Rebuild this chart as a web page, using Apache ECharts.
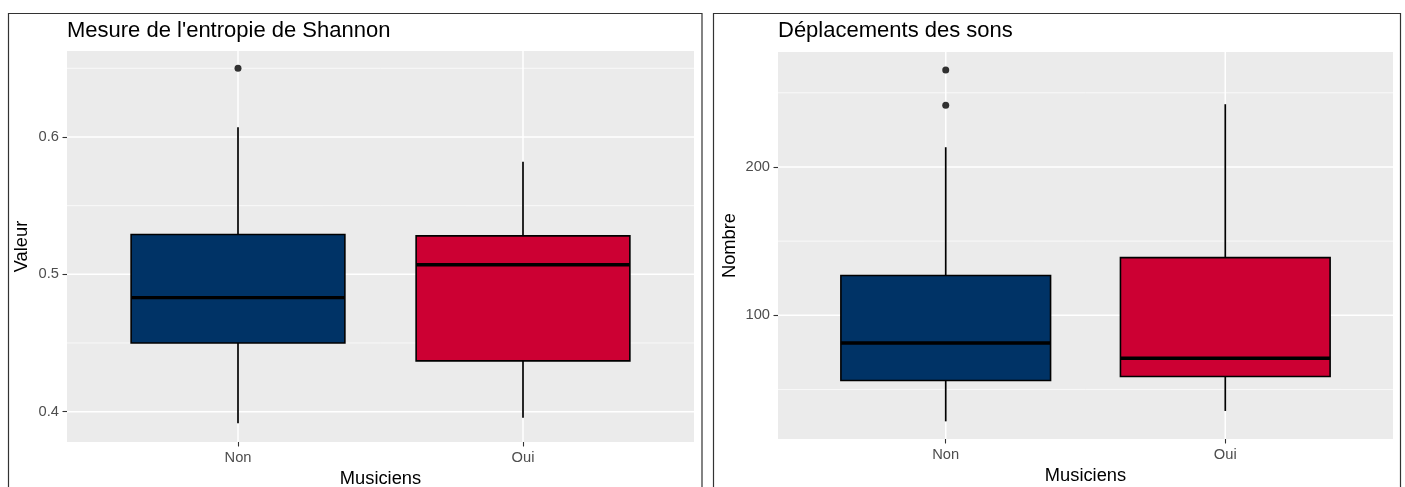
<!DOCTYPE html>
<html>
<head>
<meta charset="utf-8">
<script src="https://cdn.jsdelivr.net/npm/echarts@6/dist/echarts.min.js"></script>
<style>
html,body{margin:0;padding:0;background:#fff;}
#chart{width:1405px;height:487px;}
</style>
</head>
<body>
<div id="chart"></div>
<script>
// ---- data ----
const categories = ['Non', 'Oui'];
const xLabel = 'Musiciens';

const entropyTitle = "Mesure de l'entropie de Shannon";
const entropyYLabel = 'Valeur';
// [min, Q1, median, Q3, max] per category
const entropyStats = [
  [0.3915, 0.450, 0.483, 0.529, 0.607],
  [0.3956, 0.437, 0.507, 0.528, 0.582]
];
// [category index, value]
const entropyOutliers = [[0, 0.650]];
const entropyTicks = [0.4, 0.5, 0.6];
const entropyMinor = [0.45, 0.55, 0.65];
const entropyRange = [0.3779, 0.6626];

const deplTitle = 'Déplacements des sons';
const deplYLabel = 'Nombre';
const deplStats = [
  [28.5, 56.0, 81.3, 126.8, 213.3],
  [35.5, 58.7, 71.0, 138.9, 242.3]
];
const deplOutliers = [[0, 265.4], [0, 241.6]];
const deplTicks = [100, 200];
const deplMinor = [50, 150, 250];
const deplRange = [16.6, 277.5];

const fills = ['#003366', '#CC0033'];

// ---- build ----
const chart = echarts.init(document.getElementById('chart'), null, {renderer: 'canvas'});
const FONT = '"Liberation Sans", Arial, sans-serif';
const BOX_HALF = 0.375;

function boxRender(params, api) {
  const x = api.value(0);
  const vmin = api.value(1), q1 = api.value(2), med = api.value(3), q3 = api.value(4), vmax = api.value(5);
  const idx = api.value(6);
  const pMin = api.coord([x, vmin]);
  const pQ1 = api.coord([x, q1]);
  const pMed = api.coord([x, med]);
  const pQ3 = api.coord([x, q3]);
  const pMax = api.coord([x, vmax]);
  const left = api.coord([x - BOX_HALF, q3]);
  const right = api.coord([x + BOX_HALF, q1]);
  return {
    type: 'group',
    children: [
      {type: 'line', shape: {x1: pMin[0], y1: pMin[1], x2: pQ1[0], y2: pQ1[1]}, style: {stroke: '#000', lineWidth: 1.7}, z2: 1},
      {type: 'line', shape: {x1: pQ3[0], y1: pQ3[1], x2: pMax[0], y2: pMax[1]}, style: {stroke: '#000', lineWidth: 1.7}, z2: 1},
      {type: 'rect', shape: {x: left[0], y: left[1], width: right[0] - left[0], height: right[1] - left[1]},
        style: {fill: fills[idx], stroke: '#000', lineWidth: 1.6}, z2: 2},
      {type: 'line', shape: {x1: left[0], y1: pMed[1], x2: right[0], y2: pMed[1]}, style: {stroke: '#000', lineWidth: 3.4}, z2: 3}
    ]
  };
}

// gridlines: [orientation(0=h,1=v), value, width]
function gridRender(params, api) {
  const cs = params.coordSys;
  const orient = api.value(0), v = api.value(1), w = api.value(2);
  if (orient === 0) {
    const y = api.coord([1, v])[1];
    return {type: 'line', shape: {x1: cs.x, y1: y, x2: cs.x + cs.width, y2: y}, style: {stroke: '#ffffff', lineWidth: w}};
  }
  const x = api.coord([v, 0])[0];
  return {type: 'line', shape: {x1: x, y1: cs.y, x2: x, y2: cs.y + cs.height}, style: {stroke: '#ffffff', lineWidth: w}};
}

function buildBoxData(stats) {
  return stats.map((s, i) => [i + 1, s[0], s[1], s[2], s[3], s[4], i]);
}

function gridLinesData(ticks, minor) {
  return minor.map(v => [0, v, 0.7])
    .concat(ticks.map(v => [0, v, 1.5]))
    .concat(categories.map((c, i) => [1, i + 1, 1.5]));
}

function makeYAxis(gridIndex, range, ticks, name, gap) {
  return {
    type: 'value', gridIndex: gridIndex, min: range[0], max: range[1],
    name: name, nameLocation: 'middle', nameGap: gap,
    nameTextStyle: {color: '#000', fontSize: 18.3, fontFamily: FONT},
    axisLine: {show: false},
    axisTick: {show: true, length: 4.5, customValues: ticks, lineStyle: {color: '#333', width: 1.1}},
    axisLabel: {show: true, customValues: ticks, margin: 8, color: '#4D4D4D', fontSize: 14.7, fontFamily: FONT},
    splitLine: {show: false},
    minorSplitLine: {show: false}
  };
}

function makeXAxis(gridIndex) {
  return {
    type: 'value', gridIndex: gridIndex, min: 0.4, max: 2.6,
    name: xLabel, nameLocation: 'middle', nameGap: 25,
    nameTextStyle: {color: '#000', fontSize: 18.3, fontFamily: FONT, verticalAlign: 'top'},
    axisLine: {show: false},
    axisTick: {show: true, length: 4.5, customValues: [1, 2], lineStyle: {color: '#333', width: 1.1}},
    axisLabel: {show: true, customValues: [1, 2], margin: 8, color: '#4D4D4D', fontSize: 14.7, fontFamily: FONT,
      formatter: v => categories[Math.round(v) - 1] || ''},
    splitLine: {show: false}
  };
}

const option = {
  backgroundColor: '#ffffff',
  animation: false,
  title: [
    {text: entropyTitle, left: 67, top: 20, padding: 0, textStyle: {color: '#000', fontSize: 22, fontWeight: 'normal', fontFamily: FONT}},
    {text: deplTitle, left: 778, top: 20, padding: 0, textStyle: {color: '#000', fontSize: 22, fontWeight: 'normal', fontFamily: FONT}}
  ],
  graphic: [
    {type: 'rect', shape: {x: 8.5, y: 13.5, width: 693.5, height: 500}, style: {fill: 'none', stroke: '#333', lineWidth: 1.2}, silent: true, z: 100},
    {type: 'rect', shape: {x: 713.5, y: 13.5, width: 687, height: 500}, style: {fill: 'none', stroke: '#333', lineWidth: 1.2}, silent: true, z: 100}
  ],
  grid: [
    {left: 67, top: 51, width: 627, height: 391, show: true, backgroundColor: '#EBEBEB', borderWidth: 0,
      containLabel: false, outerBoundsMode: 'none'},
    {left: 778, top: 52, width: 615, height: 387, show: true, backgroundColor: '#EBEBEB', borderWidth: 0,
      containLabel: false, outerBoundsMode: 'none'}
  ],
  xAxis: [makeXAxis(0), makeXAxis(1)],
  yAxis: [
    makeYAxis(0, entropyRange, entropyTicks, entropyYLabel, 36),
    makeYAxis(1, deplRange, deplTicks, deplYLabel, 39)
  ],
  series: [
    {type: 'custom', xAxisIndex: 0, yAxisIndex: 0, z: 1, silent: true, renderItem: gridRender,
      encode: {x: -1, y: -1}, data: gridLinesData(entropyTicks, entropyMinor)},
    {type: 'custom', xAxisIndex: 1, yAxisIndex: 1, z: 1, silent: true, renderItem: gridRender,
      encode: {x: -1, y: -1}, data: gridLinesData(deplTicks, deplMinor)},
    {type: 'custom', xAxisIndex: 0, yAxisIndex: 0, z: 3, renderItem: boxRender,
      encode: {x: 0, y: [1, 2, 3, 4, 5]}, data: buildBoxData(entropyStats)},
    {type: 'custom', xAxisIndex: 1, yAxisIndex: 1, z: 3, renderItem: boxRender,
      encode: {x: 0, y: [1, 2, 3, 4, 5]}, data: buildBoxData(deplStats)},
    {type: 'scatter', xAxisIndex: 0, yAxisIndex: 0, z: 4, symbol: 'circle', symbolSize: 7,
      itemStyle: {color: '#000'}, data: entropyOutliers.map(o => [o[0] + 1, o[1]])},
    {type: 'scatter', xAxisIndex: 1, yAxisIndex: 1, z: 4, symbol: 'circle', symbolSize: 7,
      itemStyle: {color: '#000'}, data: deplOutliers.map(o => [o[0] + 1, o[1]])}
  ]
};
chart.setOption(option);
</script>
</body>
</html>
